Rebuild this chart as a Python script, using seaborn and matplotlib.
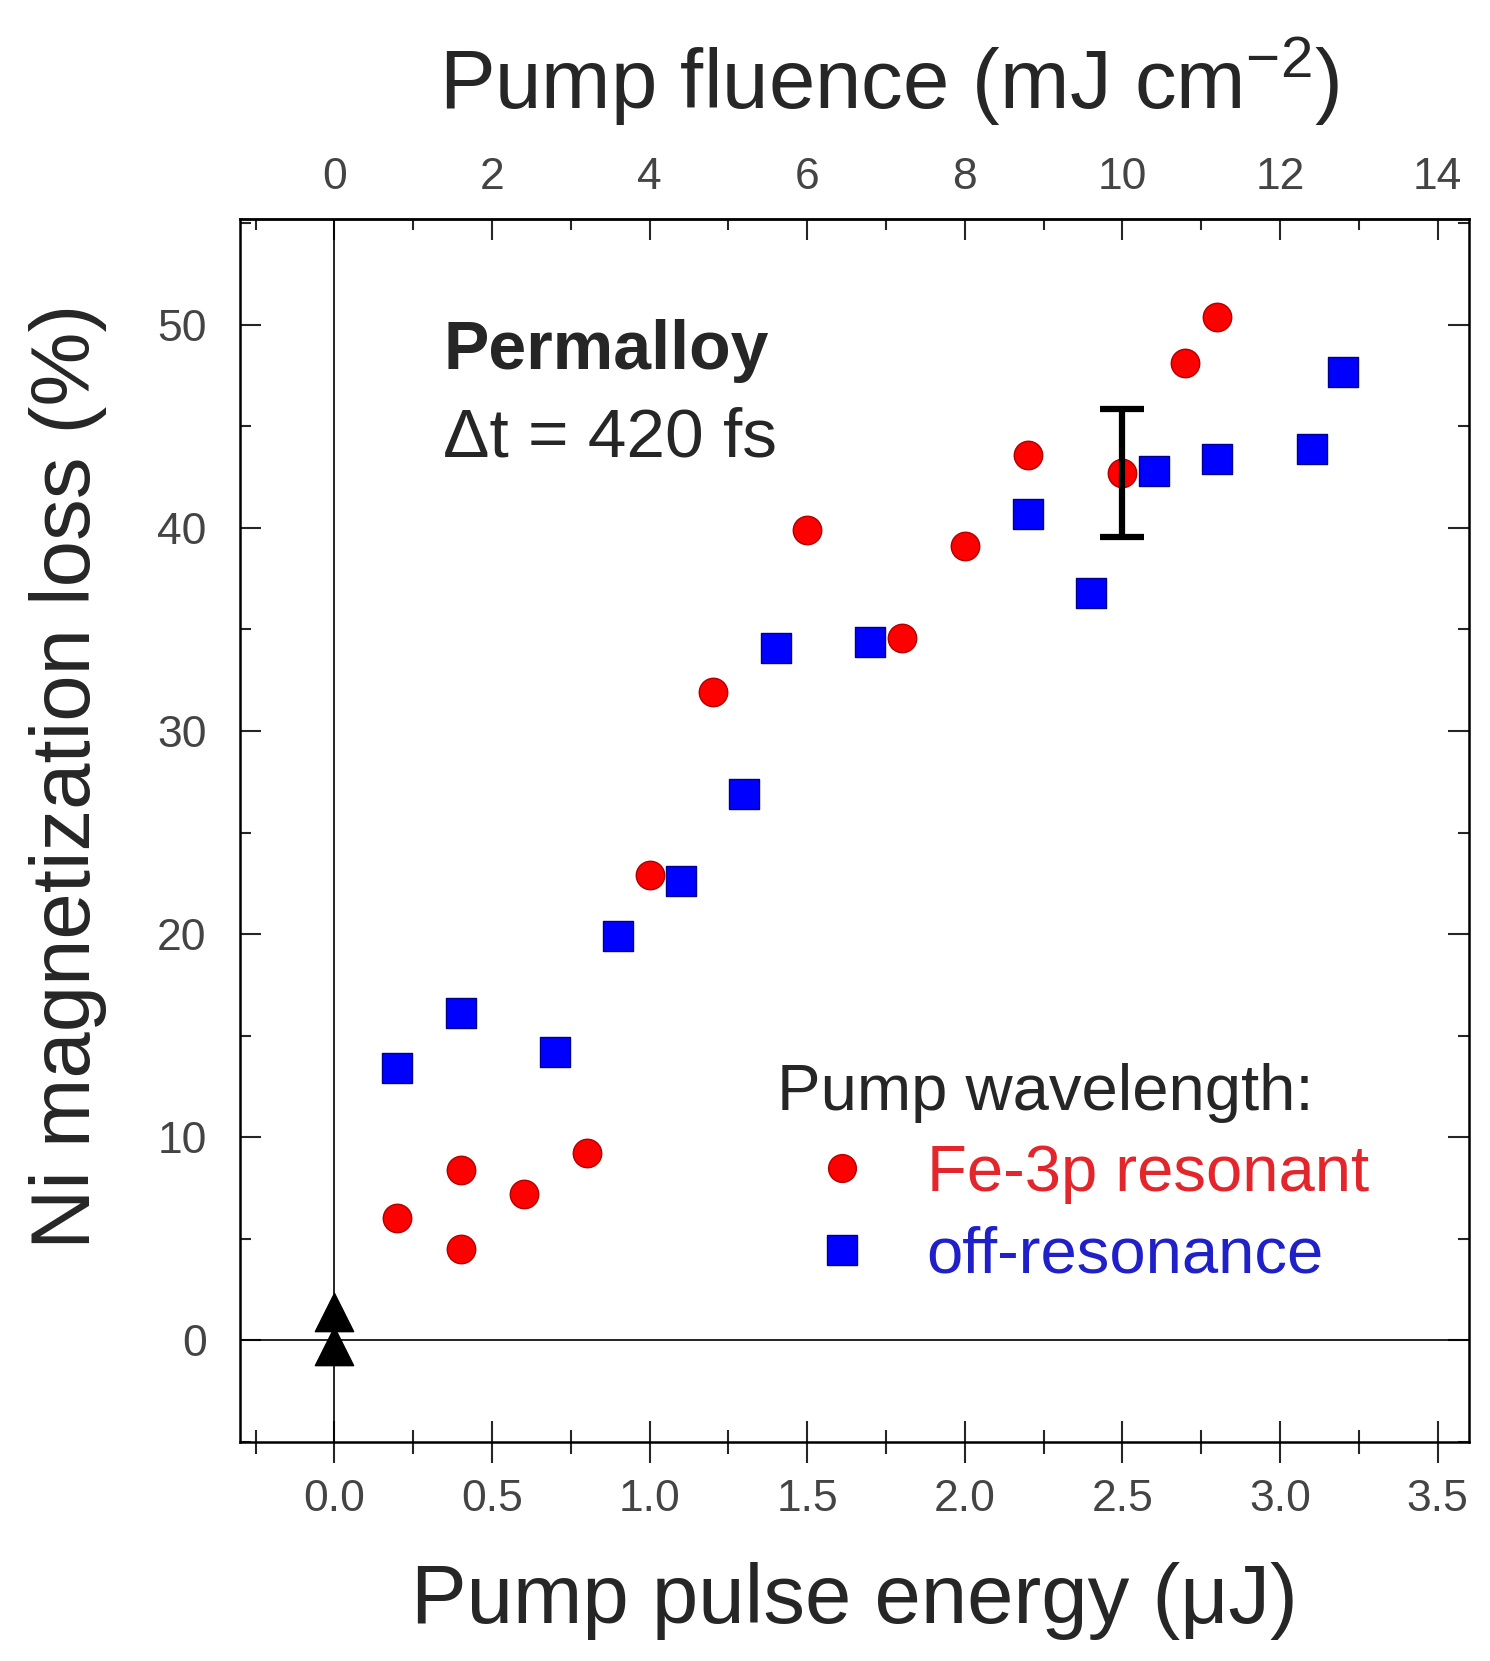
import matplotlib
matplotlib.use("Agg")
import matplotlib.pyplot as plt
from matplotlib.lines import Line2D
from matplotlib.ticker import MultipleLocator
import seaborn as sns
import pandas as pd

# Fe-3p resonant pump (red circles)
res_energy = [0.2, 0.4, 0.4, 0.6, 0.8, 1.0, 1.2, 1.5, 1.8, 2.0, 2.2, 2.5, 2.7, 2.8]
res_loss = [6.0, 8.4, 4.5, 7.2, 9.2, 22.9, 31.9, 39.9, 34.6, 39.1, 43.6, 42.7, 48.1, 50.4]

# off-resonance pump (blue squares)
off_energy = [0.2, 0.4, 0.7, 0.9, 1.1, 1.3, 1.4, 1.7, 2.2, 2.4, 2.6, 2.8, 3.1, 3.2]
off_loss = [13.4, 16.1, 14.2, 19.9, 22.6, 26.9, 34.1, 34.4, 40.7, 36.8, 42.8, 43.4, 43.9, 47.7]

# reference points at zero pump energy (black triangles)
ref_energy = [0.0, 0.0]
ref_loss = [1.4, -0.3]

# representative error bar
err_energy = [2.5]
err_loss = [42.7]
err_size = [3.15]

# pulse energy (uJ) -> fluence (mJ/cm2)
FLUENCE_PER_UJ = 4.0

df_res = pd.DataFrame({"energia": res_energy, "perda": res_loss})
df_off = pd.DataFrame({"energia": off_energy, "perda": off_loss})
df_ref = pd.DataFrame({"energia": ref_energy, "perda": ref_loss})

sns.set_style("ticks")
# fonte estreita para os numeros dos eixos, fonte normal para os textos
plt.rcParams["font.family"] = ["Liberation Sans Narrow", "Liberation Sans", "DejaVu Sans"]
plt.rcParams["mathtext.fontset"] = "custom"
plt.rcParams["mathtext.rm"] = "Liberation Sans"
plt.rcParams["mathtext.it"] = "Liberation Sans"
txt_font = ["Liberation Sans", "DejaVu Sans"]

fig = plt.figure(figsize=(14.9, 16.61), dpi=100)
ax = fig.add_axes([0.161, 0.132, 0.825, 0.736])

# linhas de referencia em x=0 e y=0
ax.axvline(0, color="black", lw=1.2, zorder=1)
ax.axhline(0, color="black", lw=1.2, zorder=1)

ax.errorbar(err_energy, err_loss, yerr=err_size, fmt="none", ecolor="black",
            elinewidth=4.5, capsize=16, capthick=4.5, zorder=4)

sns.scatterplot(data=df_res, x="energia", y="perda", ax=ax, marker="o", s=420,
                color="#ff0000", edgecolor="#b00000", linewidth=1.0, legend=False, zorder=3)
sns.scatterplot(data=df_off, x="energia", y="perda", ax=ax, marker="s", s=470,
                color="#0000ff", edgecolor="#000090", linewidth=1.0, legend=False, zorder=3)
sns.scatterplot(data=df_ref, x="energia", y="perda", ax=ax, marker="^", s=760,
                color="black", edgecolor="black", linewidth=1.0, legend=False, zorder=3)

ax.set_xlim(-0.3, 3.6)
ax.set_ylim(-5, 55.2)

ax.xaxis.set_major_locator(MultipleLocator(0.5))
ax.xaxis.set_minor_locator(MultipleLocator(0.25))
ax.yaxis.set_major_locator(MultipleLocator(10))
ax.yaxis.set_minor_locator(MultipleLocator(5))
ax.xaxis.set_major_formatter(plt.FuncFormatter(lambda v, p: f"{v:.1f}"))

for s in ax.spines.values():
    s.set_linewidth(1.8)
    s.set_color("black")

ax.tick_params(axis="x", which="major", direction="inout", length=30, width=1.5,
               pad=12, labelsize=32, labelcolor="#444444", top=False)
ax.tick_params(axis="x", which="minor", direction="inout", length=17, width=1.5, top=False)
ax.tick_params(axis="y", which="major", direction="in", length=15, width=1.5,
               pad=24, labelsize=32, labelcolor="#444444", right=True)
ax.tick_params(axis="y", which="minor", direction="in", length=8, width=1.5, right=True)

# eixo superior: fluencia
sec = ax.secondary_xaxis("top", functions=(lambda e: e * FLUENCE_PER_UJ,
                                           lambda f: f / FLUENCE_PER_UJ))
sec.xaxis.set_major_locator(MultipleLocator(2))
sec.xaxis.set_minor_locator(MultipleLocator(1))
sec.tick_params(axis="x", which="major", direction="in", length=15, width=1.5,
                pad=15, labelsize=32, labelcolor="#444444")
sec.tick_params(axis="x", which="minor", direction="in", length=8, width=1.5)
sec.spines["top"].set_linewidth(1.8)

ax.set_xlabel("Pump pulse energy (\u03bcJ)", fontsize=60, labelpad=30, family=txt_font)
ax.set_ylabel("Ni magnetization loss (%)", fontsize=60, labelpad=36, family=txt_font)
ax.yaxis.label.set_y(0.544)
sec.set_xlabel("Pump fluence (mJ cm$^{\\mathrm{-2}}$)", fontsize=60, labelpad=35, family=txt_font)
sec.xaxis.label.set_x(0.528)

ax.text(0.345, 48.7, "Permalloy", fontsize=49, fontweight="bold", va="center", ha="left",
        family=txt_font)
ax.text(0.345, 44.4, "\u0394t = 420 fs", fontsize=50, va="center", ha="left", family=txt_font)

handles = [
    Line2D([], [], ls="none", marker="o", ms=20, mfc="#ff0000", mec="#b00000"),
    Line2D([], [], ls="none", marker="s", ms=21, mfc="#0000ff", mec="#000090"),
]
leg = ax.legend(handles, ["Fe-3p resonant", "off-resonance"], title="Pump wavelength:",
                loc="lower left", bbox_to_anchor=(0.41, 0.101), frameon=False,
                prop={"family": txt_font, "size": 47},
                title_fontproperties={"family": txt_font, "size": 47},
                labelcolor=["#e3262b", "#2020c8"],
                handlelength=2.0, handletextpad=0.3, labelspacing=0.33,
                alignment="left", borderpad=0.0)

fig.savefig("out.png", dpi=100)
